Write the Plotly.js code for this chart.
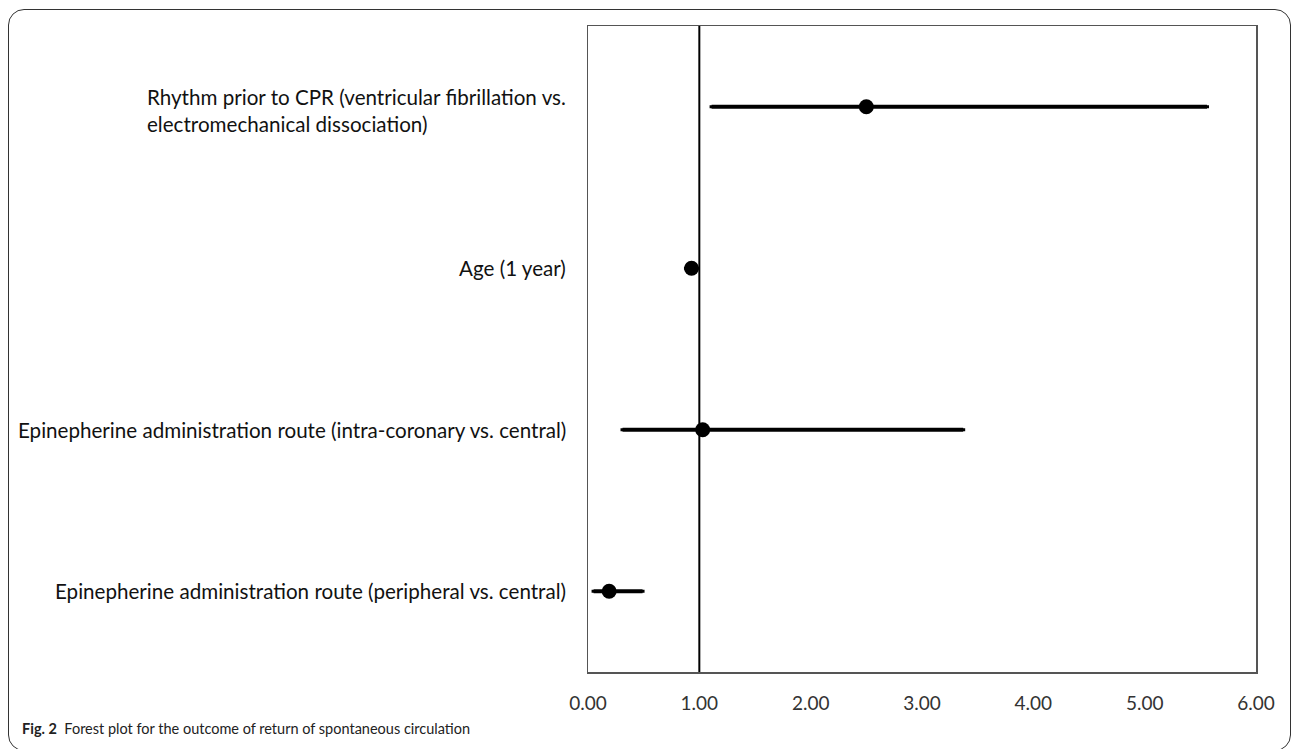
<!DOCTYPE html>
<html>
<head>
<meta charset="utf-8">
<script src="https://cdn.plot.ly/plotly-3.0.1.min.js"></script>
<style>
  html, body { margin: 0; padding: 0; background: #fff; }
  #wrap { position: relative; width: 1293px; height: 749px; }
  #chart { width: 1293px; height: 749px; }
  #frame { position: absolute; left: 8px; top: 9px; width: 1283px; height: 742px;
           border: 1.5px solid #333; border-radius: 16px; pointer-events: none; box-sizing: border-box; }
</style>
</head>
<body>
<div id="wrap">
  <div id="chart"></div>
  <div id="frame"></div>
</div>
<script>
// ---- data ----
const categories = [
  "Rhythm prior to CPR (ventricular fibrillation vs.<br>electromechanical dissociation)",
  "Age (1 year)",
  "Epinepherine administration route (intra-coronary vs. central)",
  "Epinepherine administration route (peripheral vs. central)"
];
const oddsRatio = [2.50, 0.93, 1.03, 0.19];
const ciLower   = [1.11, 0.88, 0.31, 0.05];
const ciUpper   = [5.56, 0.98, 3.37, 0.49];
const tickValues = [0, 1, 2, 3, 4, 5, 6];
const tickLabels = ["0.00", "1.00", "2.00", "3.00", "4.00", "5.00", "6.00"];
const referenceValue = 1;
const captionBold = "Fig. 2";
const captionText = "Forest plot for the outcome of return of spontaneous circulation";

const rowIds = categories.map((c, i) => "r" + i);

const trace = {
  type: "scatter",
  mode: "markers",
  x: oddsRatio,
  y: rowIds,
  marker: { color: "#000", size: 15, symbol: "circle" },
  error_x: {
    type: "data",
    symmetric: false,
    array: oddsRatio.map((v, i) => ciUpper[i] - v),
    arrayminus: oddsRatio.map((v, i) => v - ciLower[i]),
    color: "#000",
    thickness: 4,
    width: 1.5
  },
  hoverinfo: "skip",
  showlegend: false
};

const FONT = "Lato, 'Open Sans', sans-serif";

const annotations = categories.map((c, i) => ({
  xref: "paper", yref: "y",
  x: -0.03, y: rowIds[i],
  xanchor: "right", yanchor: "middle",
  align: "left",
  text: c,
  showarrow: false,
  yshift: i === 0 ? -4 : 0,
  font: { family: FONT, size: 20.6, color: "#111" }
}));
annotations.push({
  xref: "paper", yref: "paper",
  x: -0.850, y: -0.087,
  xanchor: "left", yanchor: "middle",
  align: "left",
  showarrow: false,
  text: "<b>" + captionBold + "</b>  " + captionText,
  font: { family: FONT, size: 14.5, color: "#222" }
});

const layout = {
  width: 1293, height: 749,
  margin: { l: 588, r: 37, t: 26, b: 77 },
  paper_bgcolor: "#fff",
  plot_bgcolor: "#fff",
  xaxis: {
    range: [0, 6],
    tickvals: tickValues,
    ticktext: tickLabels,
    showgrid: false,
    zeroline: false,
    showline: true,
    mirror: true,
    linecolor: "#555",
    linewidth: 1.5,
    ticks: "outside",
    ticklen: 14,
    tickcolor: "rgba(0,0,0,0)",
    tickfont: { family: FONT, size: 19, color: "#333" },
    fixedrange: true
  },
  yaxis: {
    type: "category",
    categoryorder: "array",
    categoryarray: rowIds,
    range: [3.5, -0.5],
    showticklabels: false,
    showgrid: false,
    zeroline: false,
    showline: true,
    mirror: true,
    linecolor: "#555",
    linewidth: 1.5,
    ticks: "",
    fixedrange: true
  },
  shapes: [{
    type: "line", xref: "x", yref: "paper",
    x0: referenceValue, x1: referenceValue, y0: 0, y1: 1,
    line: { color: "#000", width: 2 }
  }],
  annotations: annotations
};

Plotly.newPlot("chart", [trace], layout, { displayModeBar: false, staticPlot: true });
</script>
</body>
</html>
